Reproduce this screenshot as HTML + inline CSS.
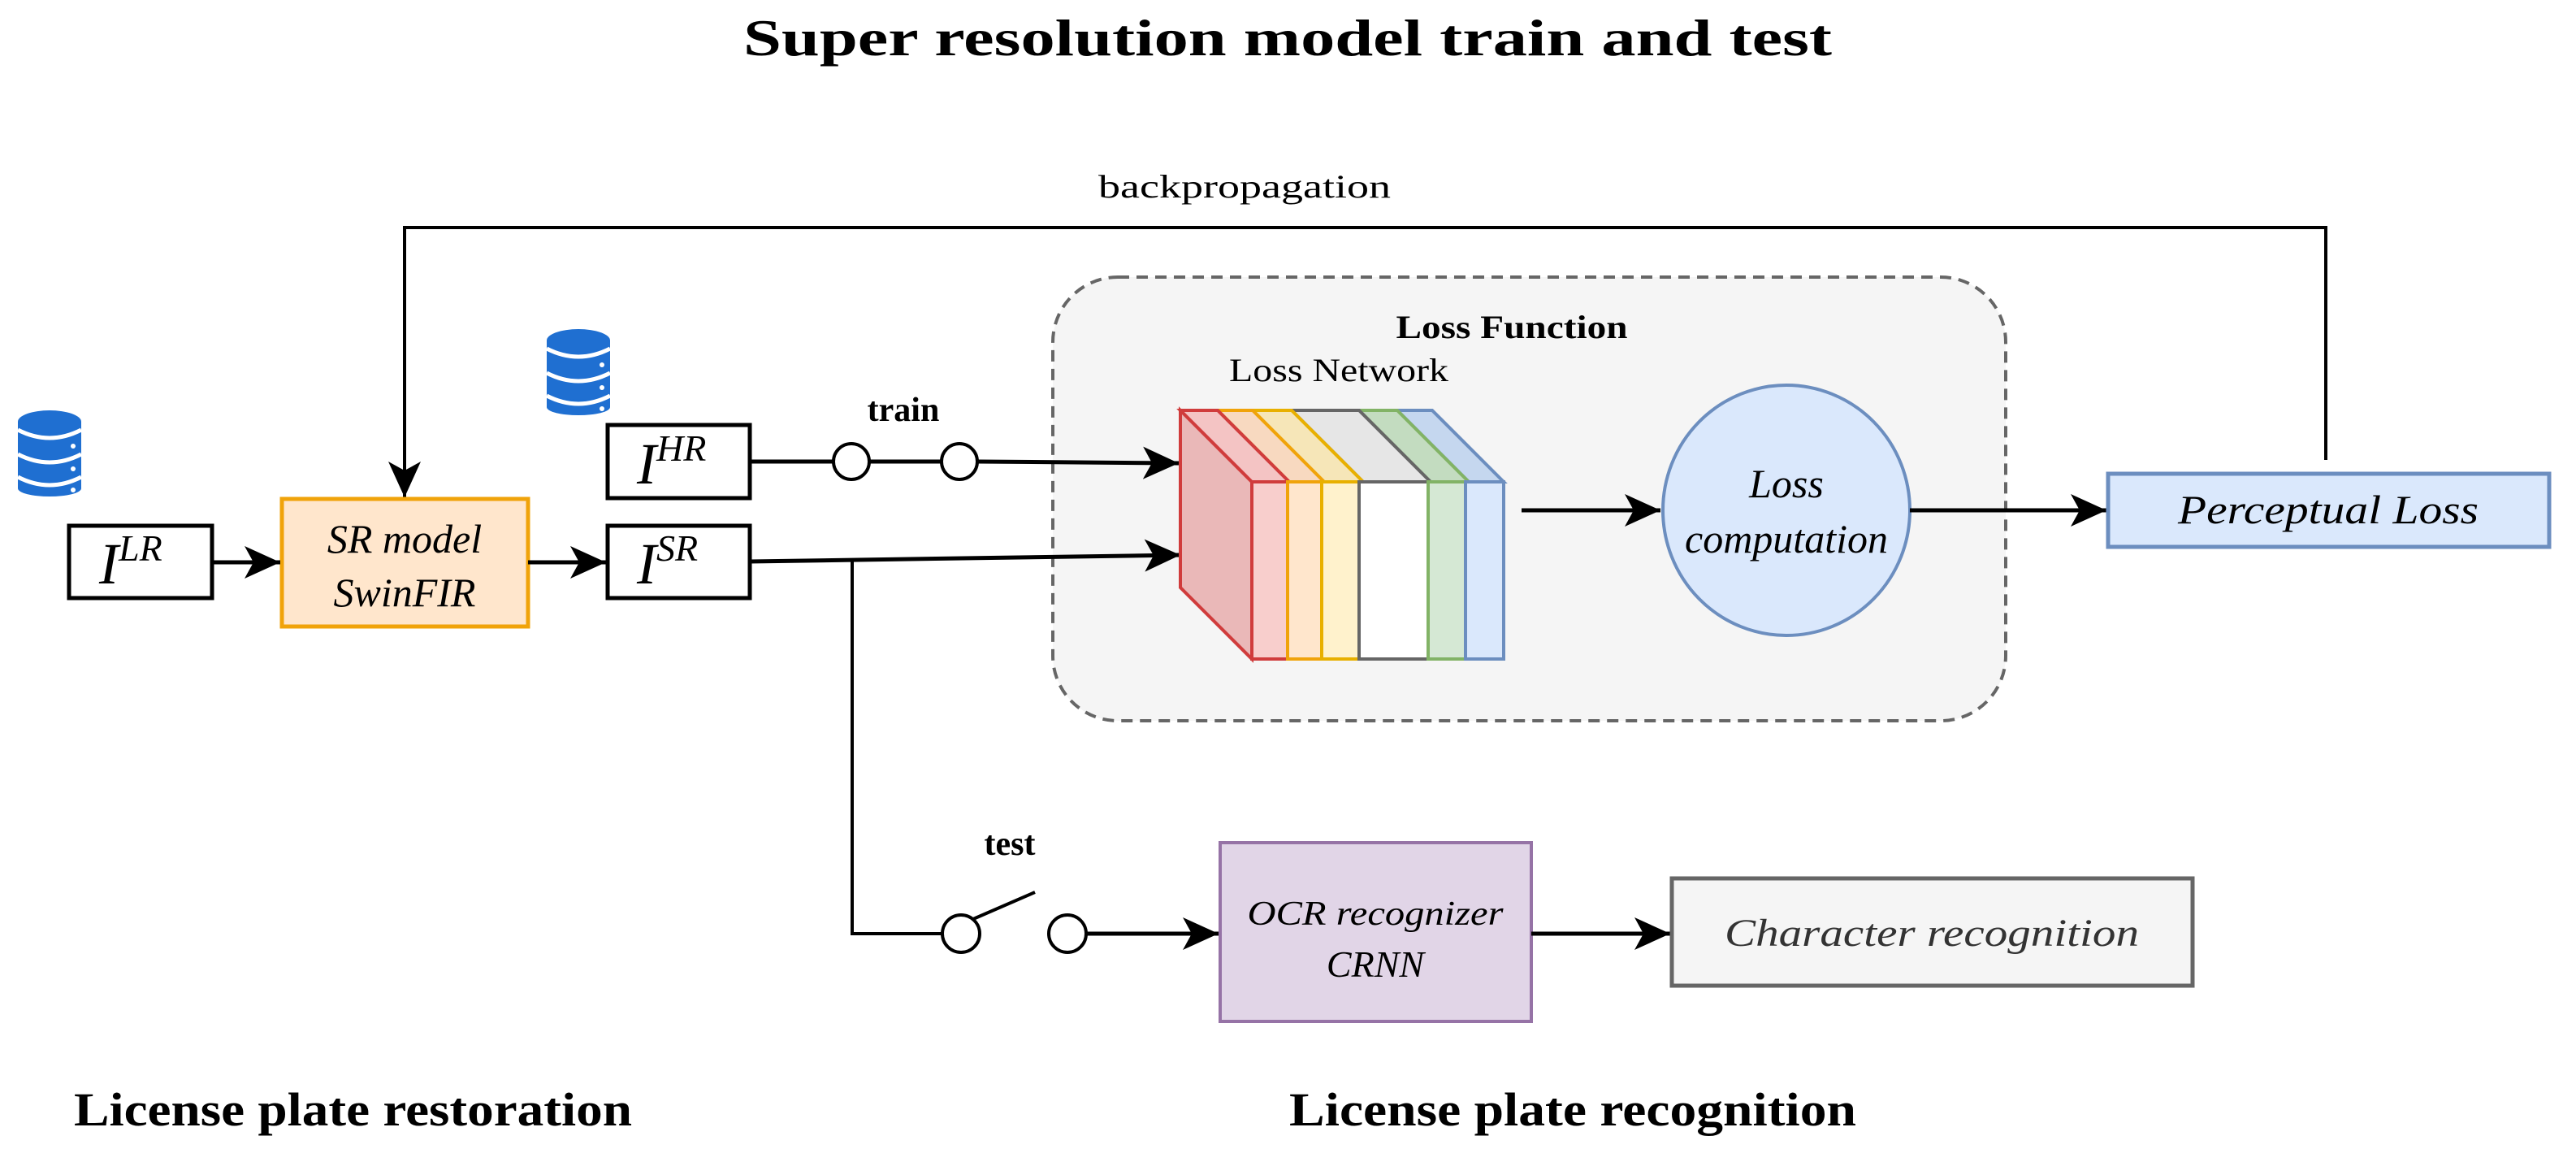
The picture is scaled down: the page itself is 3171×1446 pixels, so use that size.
<!DOCTYPE html>
<html><head><meta charset="utf-8"><style>html,body{margin:0;padding:0;background:#fff}svg{display:block}</style></head><body>
<svg width="3171" height="1446" viewBox="0 0 3171 1446" xmlns="http://www.w3.org/2000/svg" font-family="'Liberation Serif', serif">
<defs>
<marker id="a" markerUnits="userSpaceOnUse" markerWidth="50" markerHeight="50" refX="44" refY="20" orient="auto">
<path d="M0,0 L44,20 L0,40 L11,20 Z" fill="#000"/>
</marker>
<g id="db">
<rect x="0" y="14" width="78" height="82" fill="#1f6fd1"/>
<ellipse cx="39" cy="14" rx="39" ry="14" fill="#1f6fd1"/>
<ellipse cx="39" cy="96" rx="39" ry="10" fill="#1f6fd1"/>
<path d="M0,24 Q39,44 78,24" stroke="#fff" stroke-width="5" fill="none"/>
<path d="M0,54 Q39,74 78,54" stroke="#fff" stroke-width="5" fill="none"/>
<path d="M0,82 Q39,102 78,82" stroke="#fff" stroke-width="5" fill="none"/>
<circle cx="68" cy="44" r="3" fill="#fff"/><circle cx="68" cy="72" r="3" fill="#fff"/><circle cx="68" cy="98" r="3" fill="#fff"/>
</g>
</defs>

<text x="1585" y="68" font-size="64" font-weight="bold" text-anchor="middle" textLength="1340" lengthAdjust="spacingAndGlyphs">Super resolution model train and test</text>
<text x="1352" y="243" font-size="40" textLength="360" lengthAdjust="spacingAndGlyphs">backpropagation</text>

<rect x="1296" y="341" width="1173" height="546" rx="80" fill="#f5f5f5" stroke="#666" stroke-width="4" stroke-dasharray="14,9"/>
<text x="1861" y="416" font-size="40" font-weight="bold" text-anchor="middle" textLength="285" lengthAdjust="spacingAndGlyphs">Loss Function</text>
<text x="1648" y="469" font-size="40" text-anchor="middle" textLength="270" lengthAdjust="spacingAndGlyphs">Loss Network</text>

<polyline points="2863,566 2863,280 498,280 498,612" fill="none" stroke="#000" stroke-width="4" marker-end="url(#a)"/>

<use href="#db" x="22" y="505"/>
<use href="#db" x="673" y="405"/>

<rect x="85" y="647" width="176" height="89" fill="#fff" stroke="#000" stroke-width="5"/>
<text x="122" y="718" font-size="72" font-style="italic">I<tspan font-size="46" dy="-28">LR</tspan></text>
<rect x="347" y="614" width="303" height="157" fill="#ffe6cc" stroke="#f0a30a" stroke-width="5"/>
<text x="498" y="680" font-size="50" font-style="italic" text-anchor="middle">SR model</text>
<text x="498" y="746" font-size="50" font-style="italic" text-anchor="middle">SwinFIR</text>
<rect x="748" y="523" width="175" height="90" fill="#fff" stroke="#000" stroke-width="5"/>
<text x="784" y="595" font-size="72" font-style="italic">I<tspan font-size="46" dy="-28">HR</tspan></text>
<rect x="748" y="647" width="175" height="89" fill="#fff" stroke="#000" stroke-width="5"/>
<text x="784" y="718" font-size="72" font-style="italic">I<tspan font-size="46" dy="-28">SR</tspan></text>

<line x1="261" y1="692" x2="345" y2="692" stroke="#000" stroke-width="5" marker-end="url(#a)"/>
<line x1="650" y1="692" x2="746" y2="692" stroke="#000" stroke-width="5" marker-end="url(#a)"/>

<text x="1112" y="518" font-size="42" font-weight="bold" text-anchor="middle">train</text>
<line x1="923" y1="568" x2="1026" y2="568" stroke="#000" stroke-width="5"/>
<line x1="1070" y1="568" x2="1159" y2="568" stroke="#000" stroke-width="5"/>
<line x1="1203" y1="568" x2="1451" y2="570" stroke="#000" stroke-width="5" marker-end="url(#a)"/>
<circle cx="1048" cy="568" r="22" fill="#fff" stroke="#000" stroke-width="4"/>
<circle cx="1181" cy="568" r="22" fill="#fff" stroke="#000" stroke-width="4"/>

<line x1="923" y1="691" x2="1453" y2="683" stroke="#000" stroke-width="5" marker-end="url(#a)"/>
<polyline points="1049,690 1049,1149 1159,1149" fill="none" stroke="#000" stroke-width="4"/>
<circle cx="1183" cy="1149" r="23" fill="#fff" stroke="#000" stroke-width="4"/>
<line x1="1198" y1="1131" x2="1274" y2="1098" stroke="#000" stroke-width="4"/>
<circle cx="1314" cy="1149" r="23" fill="#fff" stroke="#000" stroke-width="4"/>
<text x="1243" y="1052" font-size="42" font-weight="bold" text-anchor="middle">test</text>
<line x1="1337" y1="1149" x2="1500" y2="1149" stroke="#000" stroke-width="5" marker-end="url(#a)"/>

<g stroke-width="4">
<polygon points="1453,505 1541,593 1541,811 1453,723" fill="#eab8b8" stroke="#d03c3c"/>
<polygon points="1720,505 1763,505 1851,593 1808,593" fill="#c5d7ef" stroke="#6c8ebf"/>
<polygon points="1673,505 1720,505 1808,593 1761,593" fill="#c3dcc0" stroke="#82b366"/>
<polygon points="1590,505 1673,505 1761,593 1678,593" fill="#e6e6e6" stroke="#666"/>
<polygon points="1542,505 1590,505 1678,593 1630,593" fill="#f6e6b8" stroke="#e8b000"/>
<polygon points="1499,505 1542,505 1630,593 1587,593" fill="#f8d9c0" stroke="#f0a30a"/>
<polygon points="1453,505 1499,505 1587,593 1541,593" fill="#f4c4c4" stroke="#d03c3c"/>
<rect x="1541" y="593" width="44" height="218" fill="#f8cecc" stroke="#d03c3c"/>
<rect x="1585" y="593" width="42" height="218" fill="#ffe6cc" stroke="#f0a30a"/>
<rect x="1627" y="593" width="46" height="218" fill="#fff2cc" stroke="#e8b000"/>
<rect x="1673" y="593" width="85" height="218" fill="#fff" stroke="#666"/>
<rect x="1758" y="593" width="46" height="218" fill="#d5e8d4" stroke="#82b366"/>
<rect x="1804" y="593" width="47" height="218" fill="#dae8fc" stroke="#6c8ebf"/>
</g>

<line x1="1873" y1="628" x2="2044" y2="628" stroke="#000" stroke-width="5" marker-end="url(#a)"/>
<ellipse cx="2199" cy="628" rx="152" ry="154" fill="#dae8fc" stroke="#6c8ebf" stroke-width="4"/>
<text x="2199" y="612" font-size="50" font-style="italic" text-anchor="middle">Loss</text>
<text x="2199" y="680" font-size="50" font-style="italic" text-anchor="middle">computation</text>
<line x1="2351" y1="628" x2="2593" y2="628" stroke="#000" stroke-width="5" marker-end="url(#a)"/>
<rect x="2595" y="583" width="543" height="90" fill="#dae8fc" stroke="#6c8ebf" stroke-width="5"/>
<text x="2866" y="644" font-size="50" font-style="italic" text-anchor="middle" textLength="370" lengthAdjust="spacingAndGlyphs">Perceptual Loss</text>

<rect x="1502" y="1037" width="383" height="220" fill="#e1d5e7" stroke="#9673a6" stroke-width="4"/>
<text x="1693" y="1138" font-size="42" font-style="italic" text-anchor="middle" textLength="315" lengthAdjust="spacingAndGlyphs">OCR recognizer</text>
<text x="1693" y="1202" font-size="46" font-style="italic" text-anchor="middle">CRNN</text>
<line x1="1885" y1="1149" x2="2056" y2="1149" stroke="#000" stroke-width="5" marker-end="url(#a)"/>
<rect x="2058" y="1081" width="641" height="132" fill="#f5f5f5" stroke="#666" stroke-width="5"/>
<text x="2378" y="1164" font-size="48" font-style="italic" fill="#333" text-anchor="middle" textLength="510" lengthAdjust="spacingAndGlyphs">Character recognition</text>

<text x="91" y="1385" font-size="58" font-weight="bold" textLength="687" lengthAdjust="spacingAndGlyphs">License plate restoration</text>
<text x="1587" y="1385" font-size="58" font-weight="bold" textLength="698" lengthAdjust="spacingAndGlyphs">License plate recognition</text>
</svg>
</body></html>
